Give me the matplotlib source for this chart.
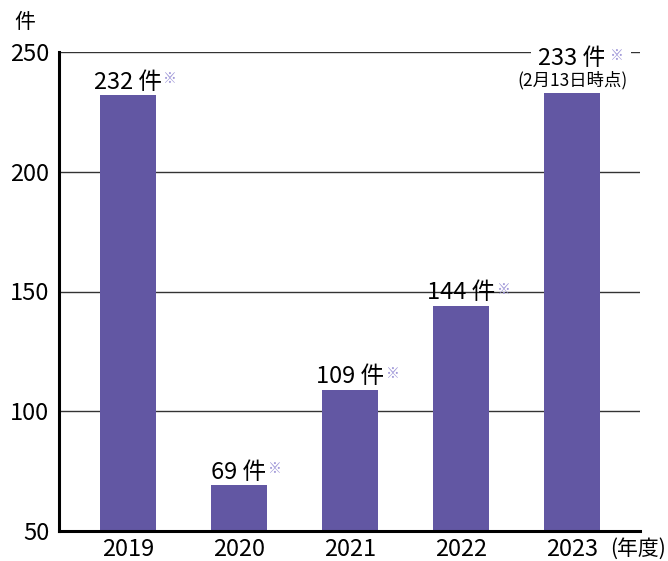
import matplotlib
matplotlib.use("Agg")
import matplotlib.pyplot as plt

plt.rcParams['font.family'] = ['Noto Sans CJK JP', 'DejaVu Sans']

years = ["2019", "2020", "2021", "2022", "2023"]
counts = [232, 69, 109, 144, 233]
yticks = [50, 100, 150, 200, 250]
unit = "件"
note_mark = "※"
note_2023 = "(2月13日時点)"
x_unit = "(年度)"

bar_color = "#6257A3"
mark_color = "#9F97D8"

fig = plt.figure(figsize=(6.68, 5.61), dpi=100)
ax = fig.add_axes([59/668, 1-531/561, (640-59)/668, (531-52)/561])

x = list(range(len(years)))
ax.bar(x, counts, width=0.5, color=bar_color, zorder=2, bottom=0)
ax.set_ylim(50, 250)
ax.set_xlim(-0.62, 4.61)
ax.set_yticks(yticks)
ax.set_yticklabels([str(v) for v in yticks], fontsize=17)
ax.set_xticks(x)
ax.set_xticklabels(years, fontsize=17)
ax.tick_params(axis='both', length=0, pad=7)
ax.tick_params(axis='x', pad=5)
for v in yticks[1:]:
    ax.axhline(v, color="#333333", lw=1, zorder=1)
for s in ["top", "right"]:
    ax.spines[s].set_visible(False)
ax.spines["left"].set_linewidth(2.2)
ax.spines["bottom"].set_linewidth(2.2)
ax.spines["left"].set_zorder(3)
ax.spines["bottom"].set_zorder(3)

for i, v in enumerate(counts):
    if i == len(counts) - 1:
        t = ax.annotate(f"{v} {unit}", xy=(i, v), xytext=(0, 16), textcoords="offset points",
                        ha="center", va="bottom", fontsize=17, zorder=4,
                        bbox=dict(boxstyle="square,pad=0.3", fc="white", ec="none"))
        ax.annotate(note_2023, xy=(i, v), xytext=(0, 2), textcoords="offset points",
                    ha="center", va="bottom", fontsize=12.5, zorder=6)
        ax.annotate(note_mark, xy=(1, 1), xycoords=t, xytext=(3, -1), textcoords="offset points",
                    ha="left", va="top", fontsize=10, color=mark_color, zorder=5,
                    bbox=dict(boxstyle="square,pad=0.5", fc="white", ec="none"))
    else:
        t = ax.annotate(f"{v} {unit}", xy=(i, v), xytext=(0, 1), textcoords="offset points",
                        ha="center", va="bottom", fontsize=17, zorder=4)
        ax.annotate(note_mark, xy=(1, 1), xycoords=t, xytext=(1, -1), textcoords="offset points",
                    ha="left", va="top", fontsize=10, color=mark_color, zorder=4)

fig.text(25/668, 1-22/561, unit, fontsize=15, ha="center", va="center")
fig.text(666/668, 1-549/561, x_unit, fontsize=15, ha="right", va="center")

fig.savefig("out.png", dpi=100)
